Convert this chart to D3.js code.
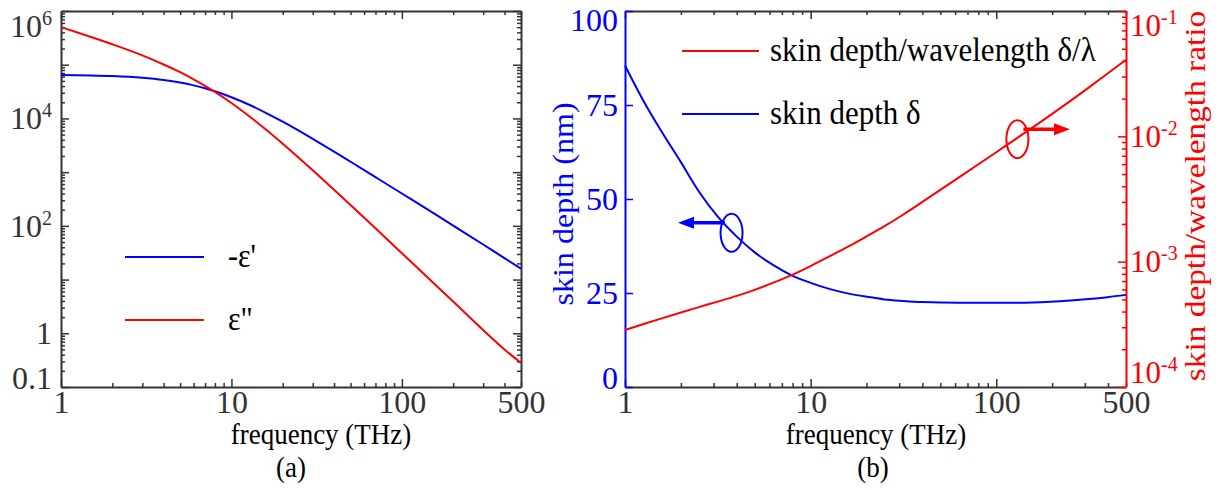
<!DOCTYPE html>
<html>
<head>
<meta charset="utf-8">
<script src="https://cdn.jsdelivr.net/npm/d3@7"></script>
<style>
  body { margin: 0; background: #fff; }
  svg { display: block; }
  text { font-family: "Liberation Serif", "Times New Roman", serif; }
</style>
</head>
<body>
<script>
'use strict';

// (a) permittivity vs frequency
const freqA = [1, 1.5, 2, 3, 4, 5, 6, 7, 8, 10, 13, 16, 20, 30, 40, 50, 70, 100, 150, 200, 300, 400, 500];
const negEpsReal = [64500, 63200, 61500, 57100, 51900, 46500, 41200, 36400, 32000, 24800, 17400, 12600, 8680, 4160, 2410, 1560, 806, 400, 180, 101, 45, 25, 16];
const epsImag = [503000, 329000, 240000, 149000, 101000, 72600, 53600, 40500, 31200, 19400, 10400, 6150, 3380, 1080, 470, 244, 90, 31, 9.2, 3.9, 1.15, 0.5, 0.28];

// (b) skin depth (nm) and skin depth / wavelength ratio
const freqB = [1, 1.26, 1.58, 2, 2.5, 3.16, 4, 5, 6.3, 7.9, 10, 12.6, 15.8, 20, 25, 31.6, 40, 63, 100, 158, 251, 316, 398, 500];
const skinDepth = [85.5, 76, 67.8, 59.8, 52, 45.3, 40, 35.8, 32.4, 29.7, 27.7, 26.1, 24.9, 24, 23.3, 22.9, 22.6, 22.4, 22.4, 22.5, 23, 23.4, 23.9, 24.5];
const depthRatio = [2.85e-4, 3.18e-4, 3.53e-4, 3.93e-4, 4.34e-4, 4.8e-4, 5.33e-4, 5.96e-4, 6.8e-4, 7.82e-4, 9.23e-4, 1.10e-3, 1.31e-3, 1.59e-3, 1.92e-3, 2.38e-3, 3.0e-3, 4.7e-3, 7.47e-3, 1.185e-2, 1.92e-2, 2.46e-2, 3.17e-2, 4.08e-2];

// tick values and labels
const freqTicks = [1, 10, 100, 500];
const freqMajor = [1, 10, 100];
const epsDecades = [0.1, 1, 10, 100, 1e3, 1e4, 1e5, 1e6];
const epsLabelled = [0.1, 1, 100, 1e4, 1e6];
const depthTicks = [0, 25, 50, 75, 100];
const ratioDecades = [1e-4, 1e-3, 1e-2, 1e-1];

const width = 1219;
const height = 490;
const blue = "#0000ff";
const red = "#ff0000";
const ink = "#333";

const svg = d3.select("body").append("svg")
    .attr("width", width)
    .attr("height", height)
    .attr("font-family", "Liberation Serif, Times New Roman, serif");

const plotTop = 11, plotBottom = 387;

const xA = d3.scaleLog().domain([1, 500]).range([61, 521]);
const yA = d3.scaleLog().domain([0.1, 1e6]).range([plotBottom, plotTop]);
const xB = d3.scaleLog().domain([1, 500]).range([625, 1126]);
const yB = d3.scaleLinear().domain([0, 100]).range([plotBottom, plotTop]);
const rB = d3.scaleLog().domain([1e-4, 1e-1]).range([plotBottom, plotTop]);

function isDecade(v) {
  const l = Math.log10(v);
  return Math.abs(l - Math.round(l)) < 1e-9;
}
function minorOf(scale) {
  return scale.ticks().filter(v => !isDecade(v));
}

function addAxis(gen, tx, ty, color, keepDomain, fontSize) {
  const g = svg.append("g").attr("transform", `translate(${tx},${ty})`).call(gen)
      .attr("font-family", null).attr("font-size", null);
  if (keepDomain) {
    g.select(".domain").attr("stroke", color).attr("stroke-width", 2);
  } else {
    g.select(".domain").remove();
  }
  g.selectAll(".tick line").attr("stroke", color).attr("stroke-width", 1.5);
  g.selectAll(".tick text").attr("fill", color).style("font-size", (fontSize || 32) + "px");
  return g;
}

function supText(sel, base, exp) {
  sel.text(null);
  sel.append("tspan").text(base);
  sel.append("tspan").attr("dy", "-0.6em").style("font-size", "20px").text(exp);
}

// text stretched a little vertically (the reference type is taller than it is wide)
function label(x, y, str, size, sy, color, anchor) {
  return svg.append("text")
      .attr("transform", `translate(${x},${y}) scale(1,${sy})`)
      .attr("text-anchor", anchor || "middle")
      .attr("fill", color || "#000")
      .style("font-size", size + "px")
      .text(str);
}
function vlabel(x, y, str, size, sAlong, color) {
  return svg.append("text")
      .attr("transform", `translate(${x},${y}) rotate(-90) scale(${sAlong},1)`)
      .attr("text-anchor", "middle")
      .attr("fill", color)
      .style("font-size", size + "px")
      .text(str);
}

// ---------- log x axes (both panels) ----------
function freqAxes(x, color) {
  const b = addAxis(d3.axisBottom(x).tickValues(freqTicks).tickSizeOuter(0).tickSizeInner(-8).tickPadding(3)
      .tickFormat(d3.format("d")), 0, plotBottom, color, true);
  b.selectAll(".tick line").filter(d => !freqMajor.includes(d)).remove();
  addAxis(d3.axisBottom(x).tickValues(minorOf(x)).tickSizeOuter(0).tickSizeInner(-4).tickFormat(""), 0, plotBottom, color, false);
  addAxis(d3.axisTop(x).tickValues(freqMajor).tickSizeOuter(0).tickSizeInner(-8).tickFormat(""), 0, plotTop, color, true);
  addAxis(d3.axisTop(x).tickValues(minorOf(x)).tickSizeOuter(0).tickSizeInner(-4).tickFormat(""), 0, plotTop, color, false);
  return b;
}

// ---------- panel (a) ----------
freqAxes(xA, ink);

const aLeft = addAxis(d3.axisLeft(yA).tickValues(epsDecades).tickSizeOuter(0).tickSizeInner(-8).tickPadding(9)
    .tickFormat(""), 61, 0, ink, true);
aLeft.selectAll(".tick text").each(function (d) {
  const t = d3.select(this);
  if (!epsLabelled.includes(d)) return;
  if (d < 10) t.text(d === 0.1 ? "0.1" : "1");
  else supText(t, "10", String(Math.round(Math.log10(d))));
  if (d === 1e6) t.attr("dy", "0.8em");
  if (d === 0.1) t.attr("dy", "0.05em");
});
addAxis(d3.axisLeft(yA).tickValues(minorOf(yA)).tickSizeOuter(0).tickSizeInner(-4).tickFormat(""), 61, 0, ink, false);
addAxis(d3.axisRight(yA).tickValues(epsDecades).tickSizeOuter(0).tickSizeInner(-8).tickFormat(""), 521, 0, ink, true);
addAxis(d3.axisRight(yA).tickValues(minorOf(yA)).tickSizeOuter(0).tickSizeInner(-4).tickFormat(""), 521, 0, ink, false);

const lineA = d3.line().curve(d3.curveMonotoneX).x(d => xA(d[0])).y(d => yA(d[1]));
svg.append("path").attr("d", lineA(d3.zip(freqA, negEpsReal)))
    .attr("fill", "none").attr("stroke", blue).attr("stroke-width", 2);
svg.append("path").attr("d", lineA(d3.zip(freqA, epsImag)))
    .attr("fill", "none").attr("stroke", red).attr("stroke-width", 2);

// legend (a)
const legA = [["-\u03b5'", blue, 257], ["\u03b5\"", red, 320]];
legA.forEach(([txt, c, y]) => {
  svg.append("line").attr("x1", 125).attr("x2", 204).attr("y1", y).attr("y2", y)
      .attr("stroke", c).attr("stroke-width", 2);
  label(228, y + 10, txt, 30, 1.1, "#000", "start");
});

label(321, 444, "frequency (THz)", 27, 1.12);
label(291, 477, "(a)", 27, 1.12);

// ---------- panel (b) ----------
freqAxes(xB, ink);

const bLeft = addAxis(d3.axisLeft(yB).tickValues(depthTicks).tickSizeOuter(0).tickSizeInner(-8).tickPadding(7)
    .tickFormat(d3.format("d")), 625, 0, blue, true);
bLeft.selectAll(".tick text").filter(d => d === 100).attr("dy", "0.6em");
bLeft.selectAll(".tick text").filter(d => d === 0).attr("dy", "0.05em");

const bRight = addAxis(d3.axisRight(rB).tickValues(ratioDecades).tickSizeOuter(0).tickSizeInner(-8).tickPadding(4)
    .tickFormat(""), 1126, 0, red, true, 31);
bRight.selectAll(".tick text").each(function (d) {
  const t = d3.select(this);
  supText(t, "10", String(Math.round(Math.log10(d))));
  if (d === 1e-1) t.attr("dy", "0.8em");
  if (d === 1e-4) t.attr("dy", "-0.15em");
});
addAxis(d3.axisRight(rB).tickValues(minorOf(rB)).tickSizeOuter(0).tickSizeInner(-4).tickFormat(""), 1126, 0, red, false);

const lineDepth = d3.line().curve(d3.curveMonotoneX).x(d => xB(d[0])).y(d => yB(d[1]));
const lineRatio = d3.line().curve(d3.curveMonotoneX).x(d => xB(d[0])).y(d => rB(d[1]));
svg.append("path").attr("d", lineDepth(d3.zip(freqB, skinDepth)))
    .attr("fill", "none").attr("stroke", blue).attr("stroke-width", 2);
svg.append("path").attr("d", lineRatio(d3.zip(freqB, depthRatio)))
    .attr("fill", "none").attr("stroke", red).attr("stroke-width", 2);

// legend (b)
const legB = [["skin depth/wavelength \u03b4/\u03bb", red, 51], ["skin depth \u03b4", blue, 114]];
legB.forEach(([txt, c, y]) => {
  svg.append("line").attr("x1", 682).attr("x2", 759).attr("y1", y).attr("y2", y)
      .attr("stroke", c).attr("stroke-width", 2);
  label(770, y + 10, txt, 31, 1.1, "#000", "start");
});

// annotation: ellipse + arrow pointing at the matching axis
function marker(cx, cy, c, x1, x2) {
  svg.append("ellipse").attr("cx", cx).attr("cy", cy).attr("rx", 11).attr("ry", 19)
      .attr("fill", "none").attr("stroke", c).attr("stroke-width", 2);
  const dir = Math.sign(x2 - x1);
  svg.append("line").attr("x1", x1).attr("x2", x2 - dir * 12).attr("y1", cy - 10).attr("y2", cy - 10)
      .attr("stroke", c).attr("stroke-width", 3.5);
  svg.append("path")
      .attr("d", `M${x2},${cy - 10}L${x2 - dir * 16},${cy - 16}L${x2 - dir * 16},${cy - 4}Z`)
      .attr("fill", c);
}
marker(xB(3.75), yB(41), blue, xB(3.45), 678);
marker(xB(130), rB(9.5e-3), red, xB(140), 1070);

vlabel(573, 204, "skin depth (nm)", 30, 1.07, blue);
vlabel(1205, 196, "skin depth/wavelength ratio", 29, 1.15, red);

label(876, 444, "frequency (THz)", 27, 1.12);
label(873, 477, "(b)", 27, 1.12);
</script>
</body>
</html>
